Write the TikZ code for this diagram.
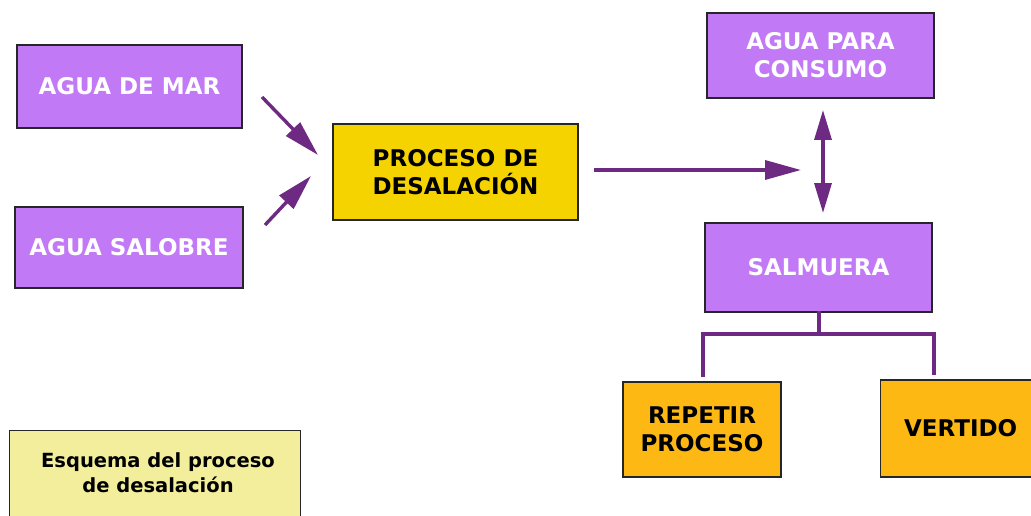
\documentclass[tikz,border=0pt]{standalone}
\usepackage{fontspec}
\setmainfont{DejaVu Sans}
\usetikzlibrary{arrows.meta}
\definecolor{lila}{HTML}{C279F5}
\definecolor{amar}{HTML}{F5D300}
\definecolor{naran}{HTML}{FDB813}
\definecolor{leyenda}{HTML}{F2EE9C}
\definecolor{flecha}{HTML}{6E2A82}
\tikzset{
  caja/.style={draw=black!85, line width=1.3pt, inner sep=0pt, font=\bfseries\fontsize{23}{28}\selectfont, align=center},
  lilabox/.style={caja, fill=lila, text=white},
  amarbox/.style={caja, fill=amar, text=black},
  naranbox/.style={caja, fill=naran, text=black},
  conn/.style={draw=flecha, line width=3.4pt},
  arr/.style={conn, -{Triangle[length=36pt,width=19pt]}},
  darr/.style={conn, {Triangle[length=30pt,width=17pt]}-{Triangle[length=30pt,width=17pt]}},
}
\begin{document}
\begin{tikzpicture}[x=1pt,y=-1pt]
\useasboundingbox (0,0) rectangle (1031,516);
\node[lilabox, minimum width=225pt, minimum height=83pt] (mar) at (129.5,86.5) {AGUA DE MAR};
\node[lilabox, minimum width=228pt, minimum height=81pt] (salobre) at (129,247.5) {AGUA SALOBRE};
\node[amarbox, minimum width=245pt, minimum height=96pt] (proc) at (455.5,172) {PROCESO DE\\DESALACIÓN};
\node[lilabox, minimum width=227pt, minimum height=85pt] (consumo) at (820.5,55.5) {AGUA PARA\\CONSUMO};
\node[lilabox, minimum width=227pt, minimum height=89pt] (salm) at (818.5,267.5) {SALMUERA};
\node[naranbox, minimum width=158pt, minimum height=95pt] (rep) at (702,429.5) {REPETIR\\PROCESO};
\node[naranbox, minimum width=152pt, minimum height=97pt, anchor=west] (vert) at (880,428.5) {\hspace*{8pt}VERTIDO};
\node[draw=black!85, line width=1.3pt, fill=leyenda, minimum width=291pt, minimum height=88pt, anchor=north west] (ley) at (9,430) {};
\node[font=\bfseries\fontsize{19.5}{25}\selectfont, align=center] (leytxt) at (158,473) {Esquema del proceso\\de desalación};
% arrows
\coordinate (a1s) at (262,97);
\coordinate (a1e) at (318,155);
\coordinate (a2s) at (265,225);
\coordinate (a2e) at (311,176);
\coordinate (a3s) at (594,170);
\coordinate (a3e) at (801,170);
\coordinate (d1) at (823,110);
\coordinate (d2) at (823,213);
\draw[arr] (a1s) -- (a1e);
\draw[arr] (a2s) -- (a2e);
\draw[arr] (a3s) -- (a3e);
\draw[darr] (d1) -- (d2);
% bracket
\coordinate (br) at (819,334);
\coordinate (bl) at (703,334);
\coordinate (bR) at (934,334);
\coordinate (le) at (703,377);
\coordinate (re) at (934,375);
\draw[conn, line cap=rect] (salm.south -| br) -- (br);
\draw[conn] (le) -- (bl) -- (bR) -- (re);
\end{tikzpicture}
\end{document}
